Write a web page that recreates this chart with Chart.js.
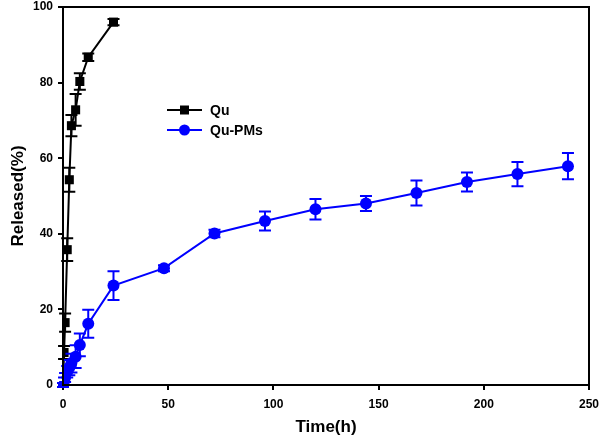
<!DOCTYPE html>
<html>
<head>
<meta charset="utf-8">
<script src="https://cdn.jsdelivr.net/npm/chart.js@4"></script>
<style>
  html, body { margin: 0; padding: 0; background: #fff; }
  #wrap { width: 600px; height: 443px; }
</style>
</head>
<body>
<div id="wrap"><canvas id="releaseChart"></canvas></div>
<script>
// Qu (free drug)
const quTime = [0, 0.5, 1, 2, 3, 4, 6, 8, 12, 24];
const quRelease = [0, 8.6, 16.5, 35.8, 54.3, 68.6, 72.8, 80.3, 86.7, 96.0];
const quErr = [0, 1.7, 2.4, 3.0, 3.2, 2.8, 4.2, 2.2, 1.0, 0.8];

// Qu-PMs
const pmTime = [0, 0.5, 1, 2, 3, 4, 6, 8, 12, 24, 48, 72, 96, 120, 144, 168, 192, 216, 240];
const pmRelease = [0, 1.0, 2.0, 3.5, 4.6, 5.8, 7.5, 10.6, 16.2, 26.3, 30.9, 40.1, 43.4, 46.5, 48.0, 50.8, 53.7, 55.8, 57.9];
const pmErr = [0.5, 1.0, 1.2, 1.5, 2.0, 2.5, 3.0, 3.0, 3.7, 3.8, 0.8, 1.0, 2.5, 2.7, 2.0, 3.3, 2.5, 3.2, 3.5];

const xTicks = [0, 50, 100, 150, 200, 250];
const yTicks = [0, 20, 40, 60, 80, 100];

const FONT = '"Liberation Sans", Arial, sans-serif';

function toPoints(xs, ys) {
    return xs.map((x, i) => ({ x: x, y: ys[i] }));
}

// error bars, drawn under each dataset's markers
const errorBars = {
    id: 'errorBars',
    beforeDatasetDraw(chart, args) {
        const ds = chart.data.datasets[args.index];
        if (!ds.errors) return;
        const xs = chart.scales.x, ys = chart.scales.y;
        const ctx = chart.ctx;
        ctx.save();
        ctx.strokeStyle = ds.borderColor;
        ctx.lineWidth = 2;
        ds.data.forEach((p, i) => {
            const e = ds.errors[i];
            if (!e) return;
            const px = xs.getPixelForValue(p.x);
            const top = ys.getPixelForValue(p.y + e);
            const bot = ys.getPixelForValue(p.y - e);
            ctx.beginPath();
            ctx.moveTo(px, top); ctx.lineTo(px, bot);
            ctx.moveTo(px - 6, top); ctx.lineTo(px + 6, top);
            ctx.moveTo(px - 6, bot); ctx.lineTo(px + 6, bot);
            ctx.stroke();
        });
        ctx.restore();
    }
};

// box around plot area
const frame = {
    id: 'frame',
    afterDraw(chart) {
        const a = chart.chartArea, ctx = chart.ctx;
        ctx.save();
        ctx.strokeStyle = '#000';
        ctx.lineWidth = 2;
        ctx.strokeRect(a.left, a.top, a.right - a.left, a.bottom - a.top);
        ctx.restore();
    }
};

// legend inside the plot
const innerLegend = {
    id: 'innerLegend',
    afterDraw(chart, args, opts) {
        const ctx = chart.ctx;
        ctx.save();
        ctx.font = 'bold 14px ' + FONT;
        ctx.textBaseline = 'middle';
        chart.data.datasets.forEach((ds, i) => {
            const y = opts.y + i * opts.gap;
            ctx.strokeStyle = ds.borderColor;
            ctx.lineWidth = 2;
            ctx.beginPath();
            ctx.moveTo(opts.x, y); ctx.lineTo(opts.x + 35, y);
            ctx.stroke();
            ctx.fillStyle = ds.borderColor;
            ctx.beginPath();
            if (ds.pointStyle === 'rect') {
                ctx.rect(opts.x + 13, y - 4.5, 9, 9);
            } else {
                ctx.arc(opts.x + 17.5, y, 5.5, 0, Math.PI * 2);
            }
            ctx.fill();
            ctx.fillStyle = '#000';
            ctx.fillText(ds.label, opts.x + 43, y + 1);
        });
        ctx.restore();
    }
};

const ctx = document.getElementById('releaseChart').getContext('2d');
const releaseChart = new Chart(ctx, {
    type: 'line',
    data: {
        datasets: [{
            label: 'Qu',
            data: toPoints(quTime, quRelease),
            errors: quErr,
            borderColor: '#000000',
            backgroundColor: '#000000',
            borderWidth: 2,
            pointStyle: 'rect',
            pointRadius: 6.4,
            pointBorderWidth: 0,
            order: 1
        }, {
            label: 'Qu-PMs',
            data: toPoints(pmTime, pmRelease),
            errors: pmErr,
            borderColor: '#0000ff',
            backgroundColor: '#0000ff',
            borderWidth: 2,
            pointStyle: 'circle',
            pointRadius: 6,
            pointBorderWidth: 0,
            order: 0
        }]
    },
    options: {
        responsive: true,
        maintainAspectRatio: false,
        animation: false,
        layout: { padding: { top: 7, right: 11, left: 0, bottom: 0 } },
        plugins: {
            legend: { display: false },
            tooltip: { enabled: false },
            innerLegend: { x: 167, y: 110, gap: 20 }
        },
        scales: {
            x: {
                type: 'linear',
                min: 0, max: 250,
                afterBuildTicks: (s) => { s.ticks = xTicks.map(v => ({ value: v })); },
                afterFit: (s) => { s.height = 58; s.paddingLeft = 0; s.paddingRight = 0; },
                grid: { drawOnChartArea: false, drawTicks: true, tickLength: 5, color: '#000', lineWidth: 2 },
                border: { display: true, color: '#000', width: 2 },
                ticks: { color: '#000', font: { family: FONT, size: 12, weight: 'bold' }, padding: 7, maxRotation: 0 },
                title: { display: true, text: 'Time(h)', color: '#000', font: { family: FONT, size: 17, weight: 'bold' }, padding: { top: 0, bottom: 5 } }
            },
            y: {
                min: 0, max: 100,
                afterBuildTicks: (s) => { s.ticks = yTicks.map(v => ({ value: v })); },
                afterFit: (s) => { s.width = 63; s.paddingTop = 0; s.paddingBottom = 0; },
                grid: { drawOnChartArea: false, drawTicks: true, tickLength: 5, color: '#000', lineWidth: 2 },
                border: { display: true, color: '#000', width: 2 },
                ticks: { color: '#000', font: { family: FONT, size: 12, weight: 'bold' }, padding: 5 },
                title: { display: true, text: 'Released(%)', color: '#000', font: { family: FONT, size: 17, weight: 'bold' }, padding: { top: 8, bottom: 0 } }
            }
        }
    },
    plugins: [errorBars, frame, innerLegend]
});
</script>
</body>
</html>
